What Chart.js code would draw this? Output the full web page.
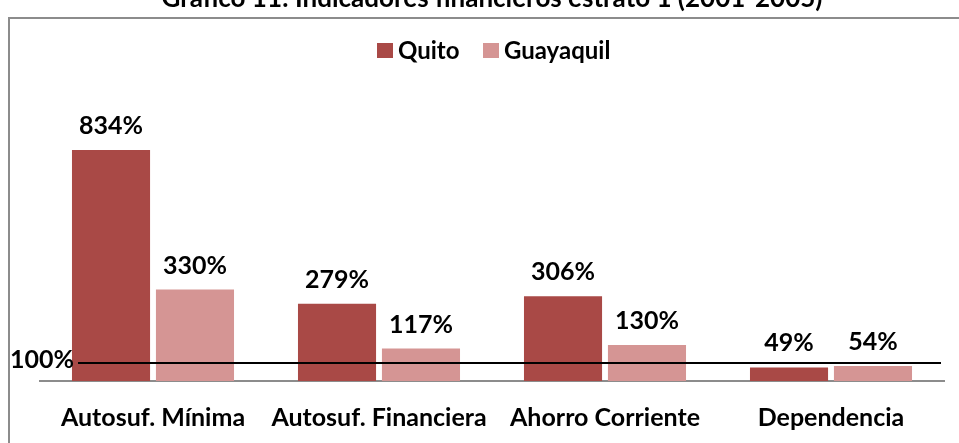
<!DOCTYPE html>
<html><head><meta charset="utf-8">
<script src="https://cdn.jsdelivr.net/npm/chart.js@4/dist/chart.umd.min.js"></script>
<style>html,body{margin:0;padding:0;background:#fff;overflow:hidden}#w{position:relative;width:959px;height:443px}</style>
</head><body><div id="w"><canvas id="c" width="959" height="443"></canvas></div>
<script>
const titleText = 'Gráfico 11: Indicadores financieros estrato 1 (2001-2005)';
const categories = ['Autosuf. Mínima', 'Autosuf. Financiera', 'Ahorro Corriente', 'Dependencia'];
const seriesNames = ['Quito', 'Guayaquil'];
const quito = [834, 279, 306, 49];
const guayaquil = [330, 117, 130, 54];
const refLabel = '100%';
const refLineValue = 65; // where the hand-drawn reference line sits in the picture
const colors = ['#A94946', '#D59594'];
const FONT = 'Lato, "Open Sans", sans-serif';

const deco = {
  id: 'deco',
  afterDraw(chart) {
    const ctx = chart.ctx, y = chart.scales.y;
    ctx.save();
    ctx.strokeStyle = '#8c8c8c'; ctx.lineWidth = 2;
    ctx.beginPath(); ctx.moveTo(9, 443); ctx.lineTo(9, 18); ctx.lineTo(959, 18); ctx.stroke();
    ctx.fillStyle = '#000'; ctx.font = 'bold 26px ' + FONT;
    ctx.textAlign = 'center'; ctx.textBaseline = 'alphabetic';
    ctx.fillText(titleText, 492, 7);
    const lx = [377, 483];
    ctx.font = 'bold 24px ' + FONT; ctx.textAlign = 'left'; ctx.textBaseline = 'middle';
    seriesNames.forEach((n, i) => {
      ctx.fillStyle = colors[i]; ctx.fillRect(lx[i], 43, 16, 15);
      ctx.fillStyle = '#000'; ctx.fillText(n, lx[i] + 21, 51);
    });
    ctx.font = 'bold 25px ' + FONT; ctx.textAlign = 'center'; ctx.textBaseline = 'middle';
    chart.data.datasets.forEach((ds, di) => {
      chart.getDatasetMeta(di).data.forEach((bar, i) => {
        ctx.fillStyle = '#000';
        ctx.fillText(ds.data[i] + '%', bar.x, bar.y - 24);
      });
    });
    const ry = y.getPixelForValue(refLineValue);
    ctx.strokeStyle = '#000'; ctx.lineWidth = 2;
    ctx.beginPath(); ctx.moveTo(78, ry); ctx.lineTo(941, ry); ctx.stroke();
    ctx.textAlign = 'right'; ctx.textBaseline = 'middle';
    ctx.fillText(refLabel, 74, ry - 3);
    ctx.restore();
  }
};

new Chart(document.getElementById('c'), {
  type: 'bar',
  data: {
    labels: categories,
    datasets: [
      { label: seriesNames[0], data: quito, backgroundColor: colors[0] },
      { label: seriesNames[1], data: guayaquil, backgroundColor: colors[1] }
    ]
  },
  options: {
    responsive: false, animation: false,
    layout: { padding: { left: 40, right: 15, top: 104, bottom: 0 } },
    datasets: { bar: { categoryPercentage: 0.743, barPercentage: 0.93 } },
    plugins: { legend: { display: false }, tooltip: { enabled: false }, title: { display: false } },
    scales: {
      x: {
        grid: { display: false, drawTicks: false },
        border: { color: '#8c8c8c', width: 2 },
        ticks: { color: '#000', font: { family: FONT, size: 25, weight: 'bold' }, padding: 22, maxRotation: 0 },
        afterFit(scale) { scale.height = 62; }
      },
      y: { display: false, min: 0, max: 1000 }
    }
  },
  plugins: [deco]
});
</script></body></html>
